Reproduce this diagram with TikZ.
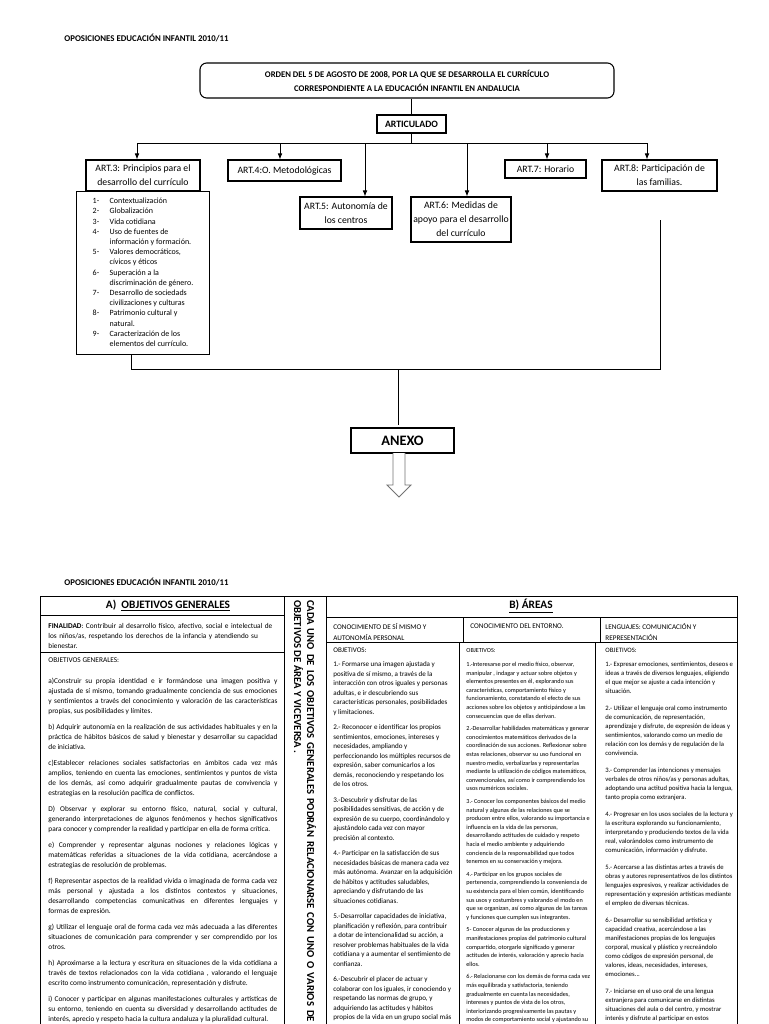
\documentclass[tikz,border=0pt]{standalone}
\usepackage{fontspec}
\setmainfont{Carlito}
\usetikzlibrary{arrows.meta}

\newcommand{\fsz}[2]{\fontsize{#1}{#2}\selectfont}

\begin{document}
\begin{tikzpicture}[x=0.75pt,y=-0.75pt,line width=0.6pt,>={Latex[length=4.5pt,width=3.5pt]},
	artbox/.style={draw,line width=0.8pt,align=center,inner sep=0pt,font=\fsz{7.3}{10.5}},
	pagehead/.style={anchor=north west,inner sep=0pt,font=\bfseries\fsz{6.6}{8}},
	celltext/.style={anchor=north west,inner sep=0pt,align=left},
	tableline/.style={line width=0.75pt},
	hollow/.style={draw=black!55,fill=white,line width=0.7pt}]
	\useasboundingbox (0,0) rectangle (768,1024);

	\node[pagehead] (head1) at (64,34) {OPOSICIONES EDUCACIÓN INFANTIL 2010/11};
	\node[artbox,rounded corners=5pt,font=\bfseries\fsz{6.5}{10.5},minimum width=310.5pt,minimum height=26.25pt] (orden) at (407,80.5)
		{ORDEN DEL 5 DE AGOSTO DE 2008, POR LA QUE SE DESARROLLA EL CURRÍCULO\\CORRESPONDIENTE A LA EDUCACIÓN INFANTIL EN ANDALUCIA};
	\node[artbox,font=\bfseries\fsz{7.3}{9},minimum width=51.75pt,minimum height=13.5pt] (artic) at (411.5,124) {ARTICULADO};

	\node[artbox,minimum width=85.5pt,minimum height=23.25pt] (art3) at (143,175.5) {ART.3: Principios para el\\desarrollo del currículo};
	\node[artbox,minimum width=84.75pt,minimum height=15.75pt] (art4) at (284.5,170.5) {ART.4:O. Metodológicas};
	\node[artbox,minimum width=69pt,minimum height=24pt] (art5) at (346,213) {ART.5: Autonomía de\\los centros};
	\node[artbox,minimum width=75pt,minimum height=33.75pt] (art6) at (461,219.5) {ART.6: Medidas de\\apoyo para el desarrollo\\del currículo};
	\node[artbox,minimum width=60.75pt,minimum height=13.5pt] (art7) at (545.5,169) {ART.7: Horario};
	\node[artbox,minimum width=86.25pt,minimum height=23.25pt] (art8) at (659.5,175.5) {ART.8: Participación de\\las familias.};

	\node[draw,line width=0.8pt,anchor=north west,minimum width=99.75pt,minimum height=122.25pt,inner sep=0pt,font=\fsz{6}{7.65}] (list) at (76,191)
		{\begin{tabular}{@{}p{12.75pt}@{}l@{}}
		1- & Contextualización\\
		2- & Globalización\\
		3- & Vida cotidiana\\
		4- & Uso de fuentes de\\
		   & información y formación.\\
		5- & Valores democráticos,\\
		   & cívicos y éticos\\
		6- & Superación a la\\
		   & discriminación de género.\\
		7- & Desarrollo de sociedads\\
		   & civilizaciones y culturas\\
		8- & Patrimonio cultural y\\
		   & natural.\\
		9- & Caracterización de los\\
		   & elementos del currículo.
		\end{tabular}};

	\coordinate (bus) at (411.5,143);
	\coordinate (b3) at (137,143);
	\coordinate (b4) at (280,143);
	\coordinate (b5) at (365,143);
	\coordinate (b6) at (467,143);
	\coordinate (b7) at (547,143);
	\coordinate (b8) at (647,143);

	\draw (artic.north |- orden.south) -- (artic.north);
	\draw (artic.south) -- (bus);
	\draw (b3) -- (b8);
	\foreach \n in {3,...,8}
		\draw[->] (b\n) -- (b\n |- art\n.north);

	\node[artbox,font=\bfseries\fsz{10.8}{12},minimum width=77.25pt,minimum height=18.75pt] (anexo) at (402.5,440.5) {ANEXO};

	\coordinate (jl) at (131,369);
	\coordinate (jc) at (398,369);
	\coordinate (jr) at (660,369);
	\coordinate (r8) at (660,220);
	\draw (jl |- list.south) -- (jl) -- (jr) -- (r8);
	\draw[shorten >=2pt] (jc) -- (jc |- anexo.north);
	\draw[hollow] (393,453) -- (393,485) -- (387,485) -- (399,497) -- (411,485) -- (405,485) -- (405,453);

	\node[pagehead] (head2) at (64,578) {OPOSICIONES EDUCACIÓN INFANTIL 2010/11};

	\draw[tableline] (40,1026) -- (40,596) -- (737,596) -- (737,1026);
	\foreach \x in {284,326}
		\draw[tableline] (\x,596) -- (\x,1026);
	\foreach \y in {615,652}
		\draw[tableline] (40,\y) -- (284,\y);
	\foreach \y in {617,642}
		\draw[tableline] (326,\y) -- (737,\y);
	\foreach \x in {463,600}
		\draw[tableline] (\x,617) -- (\x,642);
	\foreach \x in {459,595}
		\draw[tableline] (\x,642) -- (\x,1026);

	\node[font=\bfseries\fsz{8.5}{10}] (tita) at (168,605.5) {A)\ \ \underline{OBJETIVOS GENERALES}};
	\node[font=\bfseries\fsz{8.5}{10}] (titb) at (531,606) {\underline{B) ÁREAS}};

	\node[celltext,font=\fsz{5.4}{8.25}] (sub1) at (333,623.5) {CONOCIMIENTO DE SÍ MISMO Y\\AUTONOMÍA PERSONAL};
	\node[celltext,font=\fsz{5.4}{8.25}] (sub2) at (470,623.5) {CONOCIMIENTO DEL ENTORNO.};
	\node[celltext,font=\fsz{5.4}{8.25}] (sub3) at (605,623.5) {LENGUAJES: COMUNICACIÓN Y\\REPRESENTACIÓN};

	\node[celltext,text width=171.75pt,font=\fsz{5.5}{7.5}] (fin) at (48,623.5)
		{\textbf{FINALIDAD}: Contribuir al desarrollo físico, afectivo, social e intelectual de\\los niños/as, respetando los derechos de la infancia y atendiendo su\\bienestar.};

	\node[celltext,text width=171.75pt,align=justify,font={\fsz{5.5}{7.5}\tolerance=10000 \hyphenpenalty=10000}] (obj) at (48,657.5)
		{OBJETIVOS GENERALES:\par\vspace{8.25pt}
		a)Construir su propia identidad e ir formándose una imagen positiva y\linebreak
		ajustada de sí mismo, tomando gradualmente conciencia de sus emociones\linebreak
		y sentimientos a través del conocimiento y valoración de las características\linebreak
		propias, sus posibilidades y límites.\par\vspace{4.5pt}
		b) Adquirir autonomía en la realización de sus actividades habituales y en la\linebreak
		práctica de hábitos básicos de salud y bienestar y desarrollar su capacidad\linebreak
		de iniciativa.\par\vspace{4.5pt}
		c)Establecer relaciones sociales satisfactorias en ámbitos cada vez más\linebreak
		amplios, teniendo en cuenta las emociones, sentimientos y puntos de vista\linebreak
		de los demás, así como adquirir gradualmente pautas de convivencia y\linebreak
		estrategias en la resolución pacífica de conflictos.\par\vspace{4.5pt}
		D) Observar y explorar su entorno físico, natural, social y cultural,\linebreak
		generando interpretaciones de algunos fenómenos y hechos significativos\linebreak
		para conocer y comprender la realidad y participar en ella de forma crítica.\par\vspace{4.5pt}
		e) Comprender y representar algunas nociones y relaciones lógicas y\linebreak
		matemáticas referidas a situaciones de la vida cotidiana, acercándose a\linebreak
		estrategias de resolución de problemas.\par\vspace{4.5pt}
		f) Representar aspectos de la realidad vivida o imaginada de forma cada vez\linebreak
		más personal y ajustada a los distintos contextos y situaciones,\linebreak
		desarrollando competencias comunicativas en diferentes lenguajes y\linebreak
		formas de expresión.\par\vspace{4.5pt}
		g) Utilizar el lenguaje oral de forma cada vez más adecuada a las diferentes\linebreak
		situaciones de comunicación para comprender y ser comprendido por los\linebreak
		otros.\par\vspace{4.5pt}
		h) Aproximarse a la lectura y escritura en situaciones de la vida cotidiana a\linebreak
		través de textos relacionados con la vida cotidiana , valorando el lenguaje\linebreak
		escrito como instrumento comunicación, representación y disfrute.\par\vspace{4.5pt}
		i) Conocer y participar en algunas manifestaciones culturales y artísticas de\linebreak
		su entorno, teniendo en cuenta su diversidad y desarrollando actitudes de\linebreak
		interés, aprecio y respeto hacia la cultura andaluza y la pluralidad cultural.};

	\node[rotate=-90,text width=316.5pt,align=justify,inner sep=0pt,font={\bfseries\fsz{8}{9.75}\tolerance=10000}] (nota) at (305,811)
		{CADA UNO DE LOS OBJETIVOS GENERALES PODRÁN RELACIONARSE CON UNO O VARIOS DE\linebreak
		OBJETIVOS DE ÁREA Y VICEVERSA .};

	\node[celltext,font=\fsz{5.3}{7.1}] (col1) at (333,648)
		{OBJETIVOS:\\[3.4pt]
		1.- Formarse una imagen ajustada y\\
		positiva de sí mismo, a través de la\\
		interacción con otros iguales y personas\\
		adultas, e ir descubriendo sus\\
		características personales, posibilidades\\
		y limitaciones.\\[4.6pt]
		2.- Reconocer e identificar los propios\\
		sentimientos, emociones, intereses y\\
		necesidades, ampliando y\\
		perfeccionando los múltiples recursos de\\
		expresión, saber comunicarlos a los\\
		demás, reconociendo y respetando los\\
		de los otros.\\[4.6pt]
		3.-Descubrir y disfrutar de las\\
		posibilidades sensitivas, de acción y de\\
		expresión de su cuerpo, coordinándolo y\\
		ajustándolo cada vez con mayor\\
		precisión al contexto.\\[4.6pt]
		4.- Participar en la satisfacción de sus\\
		necesidades básicas de manera cada vez\\
		más autónoma. Avanzar en la adquisición\\
		de hábitos y actitudes saludables,\\
		apreciando y disfrutando de las\\
		situaciones cotidianas.\\[4.6pt]
		5.-Desarrollar capacidades de iniciativa,\\
		planificación y reflexión, para contribuir\\
		a dotar de intencionalidad su acción, a\\
		resolver problemas habituales de la vida\\
		cotidiana y a aumentar el sentimiento de\\
		confianza.\\[4.6pt]
		6.-Descubrir el placer de actuar y\\
		colaborar con los iguales, ir conociendo y\\
		respetando las normas de grupo, y\\
		adquiriendo las actitudes y hábitos\\
		propios de la vida en un grupo social más};

	\node[celltext,font=\fsz{4.65}{6.45}] (col2) at (466,648)
		{OBJETIVOS:\\[4.05pt]
		1.-Interesarse por el medio físico, observar,\\
		manipular , indagar  y actuar sobre objetos y\\
		elementos presentes en él, explorando sus\\
		características, comportamiento físico y\\
		funcionamiento, constatando el efecto de sus\\
		acciones sobre los objetos y anticipándose a las\\
		consecuencias que de ellas derivan.\\[3pt]
		2.-Desarrollar habilidades matemáticas y generar\\
		conocimientos matemáticos derivados de la\\
		coordinación de sus acciones. Reflexionar sobre\\
		estas relaciones, observar su uso funcional en\\
		nuestro medio, verbalizarlas y representarlas\\
		mediante la utilización de códigos matemáticos,\\
		convencionales, así como ir comprendiendo los\\
		usos numéricos sociales.\\[3pt]
		3.- Conocer los componentes básicos del medio\\
		natural y algunas de las relaciones que se\\
		producen entre ellos, valorando su importancia e\\
		influencia en la vida de las personas,\\
		desarrollando actitudes de cuidado y respeto\\
		hacia el medio ambiente y adquiriendo\\
		conciencia de la responsabilidad que todos\\
		tenemos en su conservación y mejora.\\[3pt]
		4.- Participar en los grupos sociales de\\
		pertenencia, comprendiendo la conveniencia de\\
		su existencia para el bien común, identificando\\
		sus usos y costumbres y valorando el modo en\\
		que se organizan, así como algunas de las tareas\\
		y funciones que  cumplen sus integrantes.\\[3pt]
		5- Conocer algunas de las producciones y\\
		manifestaciones propias del patrimonio cultural\\
		compartido, otorgarle significado y generar\\
		actitudes de interés, valoración y aprecio hacia\\
		ellos.\\[3pt]
		6.- Relacionarse con los demás de forma cada vez\\
		más equilibrada y satisfactoria, teniendo\\
		gradualmente en cuenta las necesidades,\\
		intereses y puntos de vista de los otros,\\
		interiorizando progresivamente las pautas y\\
		modos de comportamiento social y ajustando su};

	\node[celltext,font=\fsz{5}{6.75}] (col3) at (605,648)
		{OBJETIVOS:\\[3.75pt]
		1.- Expresar emociones, sentimientos, deseos e\\
		ideas a través de diversos lenguajes, eligiendo\\
		el que mejor se ajuste a cada intención y\\
		situación.\\[6pt]
		2.- Utilizar el lenguaje oral como instrumento\\
		de comunicación, de representación,\\
		aprendizaje y disfrute, de expresión de ideas y\\
		sentimientos, valorando como un medio de\\
		relación con los demás y de regulación de la\\
		convivencia.\\[6pt]
		3.- Comprender las intenciones y mensajes\\
		verbales de otros niños/as y personas adultas,\\
		adoptando una actitud positiva hacia la lengua,\\
		tanto propia como extranjera.\\[6pt]
		4.- Progresar en los usos sociales de la lectura y\\
		la escritura explorando su funcionamiento,\\
		interpretando y produciendo textos de la vida\\
		real, valorándolos como instrumento de\\
		comunicación, información y disfrute.\\[6pt]
		5.- Acercarse a las distintas artes a través de\\
		obras y autores representativos de los distintos\\
		lenguajes expresivos, y realizar actividades de\\
		representación y expresión artísticas mediante\\
		el empleo de diversas técnicas.\\[6pt]
		6.- Desarrollar su sensibilidad artística y\\
		capacidad creativa, acercándose a las\\
		manifestaciones propias de los lenguajes\\
		corporal, musical y plástico y recreándolo\\
		como códigos de expresión personal, de\\
		valores, ideas, necesidades, intereses,\\
		emociones...\\[6pt]
		7.- Iniciarse en el uso oral de una lengua\\
		extranjera para comunicarse en distintas\\
		situaciones del aula o del centro, y mostrar\\
		interés y disfrute al participar en estos};
\end{tikzpicture}
\end{document}
